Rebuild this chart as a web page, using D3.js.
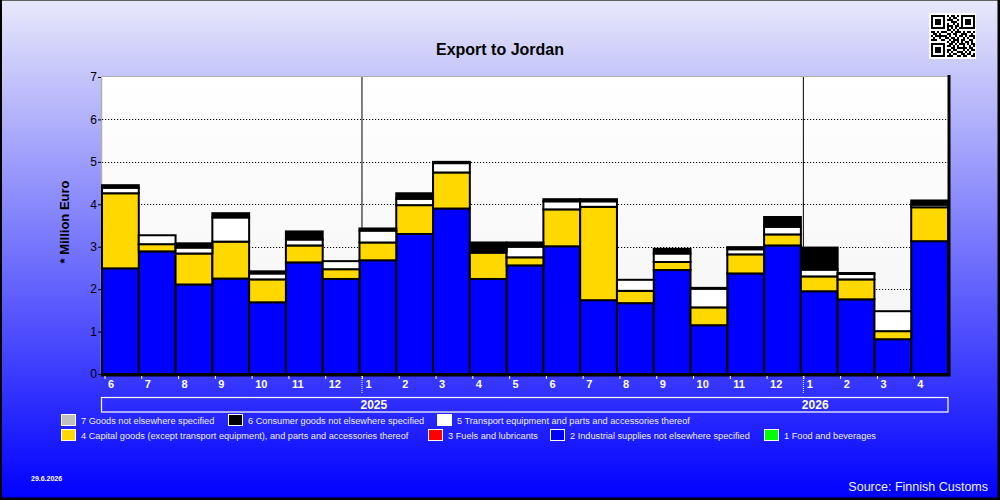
<!DOCTYPE html>
<head>
	<meta charset="utf-8" />
	<style>
		body { margin: 0; background: #fff; overflow: hidden; }
		svg { display: block; font-family: 'Liberation Sans', Arial, sans-serif; }
	</style>
</head>
<body>
	<div id="chart-area"></div>
	<script src="https://cdnjs.cloudflare.com/ajax/libs/d3/7.8.5/d3.min.js"></script>
	<script>
		// months Jun 2024 .. Apr 2026
		const months = [6, 7, 8, 9, 10, 11, 12, 1, 2, 3, 4, 5, 6, 7, 8, 9, 10, 11, 12, 1, 2, 3, 4];
		const years = [
			{ label: '2025', start: 7 },
			{ label: '2026', start: 19 },
		];
		const yTicks = [0, 1, 2, 3, 4, 5, 6, 7];

		// million euro per category (bottom -> top)
		const industrial = [2.49, 2.89, 2.11, 2.25, 1.69, 2.63, 2.24, 2.68, 3.30, 3.90, 2.24, 2.56, 3.01, 1.74, 1.67, 2.45, 1.15, 2.37, 3.03, 1.95, 1.76, 0.82, 3.13];
		const capital = [1.77, 0.17, 0.73, 0.87, 0.54, 0.40, 0.23, 0.42, 0.68, 0.85, 0.62, 0.19, 0.87, 2.20, 0.29, 0.19, 0.42, 0.45, 0.26, 0.35, 0.47, 0.19, 0.80];
		const transport = [0.13, 0.21, 0.14, 0.57, 0.14, 0.14, 0.19, 0.28, 0.15, 0.22, 0.02, 0.25, 0.19, 0.13, 0.26, 0.20, 0.44, 0.12, 0.18, 0.16, 0.13, 0.47, 0.06];
		const consumer = [0.06, 0, 0.10, 0.10, 0.05, 0.19, 0, 0.05, 0.13, 0.03, 0.22, 0.10, 0.05, 0.05, 0, 0.11, 0.02, 0.05, 0.23, 0.52, 0.02, 0, 0.10];

		const stackSeries = [
			{ key: 'industrial', values: industrial, color: '#0000ff' },
			{ key: 'capital', values: capital, color: '#ffd800' },
			{ key: 'transport', values: transport, color: '#ffffff' },
			{ key: 'consumer', values: consumer, color: '#000000' },
		];

		const legendRows = [
			[
				{ label: '7 Goods not elsewhere specified', color: '#c0c0c0', x: 61 },
				{ label: '6 Consumer goods not elsewhere specified', color: '#000000', x: 228 },
				{ label: '5  Transport equipment and parts and accessories thereof', color: '#ffffff', x: 437 },
			],
			[
				{ label: '4 Capital goods (except transport equipment), and parts and accessories thereof', color: '#ffd800', x: 61 },
				{ label: '3 Fuels and lubricants', color: '#ff0000', x: 428 },
				{ label: '2 Industrial supplies not elsewhere specified', color: '#0000ff', x: 550 },
				{ label: '1 Food and beverages', color: '#00ff00', x: 764 },
			],
		];

		// fake qr modules (decoration)
		const qrRows = [
			'1111111010110101111111',
			'1000001001011001000001',
			'1011101011100101011101',
			'1011101000111001011101',
			'1011101010010101011101',
			'1000001011101101000001',
			'1111111010101011111111',
			'0000000011010100000000',
			'1101011100101110101101',
			'0110100011011001110010',
			'1011111101001011010111',
			'0100100110110100101001',
			'1110011001011101100110',
			'0000000010110101011010',
			'1111111001101011101011',
			'1000001011010100100101',
			'1011101000110111110110',
			'1011101011011000101011',
			'1011101010100111010100',
			'1000001001011001101101',
			'1111111011100110110011',
		];

		const W = 1000, H = 500;
		const margin = { left: 102, right: 948, top: 77, bottom: 374 };

		const svg = d3.select('#chart-area').append('svg')
			.attr('width', W).attr('height', H);

		const defs = svg.append('defs');
		const bg = defs.append('linearGradient').attr('id', 'bg')
			.attr('x1', 0).attr('y1', 0).attr('x2', 0).attr('y2', 1);
		bg.append('stop').attr('offset', '0%').attr('stop-color', '#e8e8fa');
		bg.append('stop').attr('offset', '100%').attr('stop-color', '#0000ff');
		const plotBg = defs.append('linearGradient').attr('id', 'plotbg')
			.attr('x1', 0).attr('y1', 0).attr('x2', 0).attr('y2', 1);
		plotBg.append('stop').attr('offset', '0%').attr('stop-color', '#ffffff');
		plotBg.append('stop').attr('offset', '100%').attr('stop-color', '#f4f4f4');

		svg.append('rect').attr('width', W).attr('height', H).attr('fill', 'url(#bg)');
		svg.append('rect').attr('x', 0.5).attr('y', 0.5).attr('width', W - 2).attr('height', H - 2)
			.attr('fill', 'none').attr('stroke', '#606060');
		svg.append('path').attr('d', `M${W - 1},0V${H - 1}H0`).attr('stroke', '#000').attr('stroke-width', 3).attr('fill', 'none');
		svg.append('path').attr('d', `M1,0V${H}`).attr('stroke', '#000').attr('stroke-width', 2).attr('fill', 'none');

		const x = d3.scaleBand()
			.domain(d3.range(months.length))
			.range([margin.left, margin.right])
			.padding(0);
		const y = d3.scaleLinear().domain([0, 7]).range([margin.bottom, margin.top]);

		// plot area
		svg.append('rect')
			.attr('x', margin.left).attr('y', margin.top)
			.attr('width', margin.right - margin.left).attr('height', margin.bottom - margin.top)
			.attr('fill', 'url(#plotbg)');
		svg.append('line')
			.attr('x1', margin.left - 1).attr('x2', margin.right).attr('y1', margin.top - 0.5).attr('y2', margin.top - 0.5)
			.attr('stroke', '#b0b0b0');
		svg.append('line')
			.attr('x1', margin.left - 0.5).attr('x2', margin.left - 0.5).attr('y1', margin.top).attr('y2', margin.bottom)
			.attr('stroke', '#b0b0b0').attr('stroke-width', 1.5);

		// gridlines
		svg.append('g').selectAll('line')
			.data(yTicks.filter(d => d > 0 && d < 7))
			.join('line')
			.attr('x1', margin.left).attr('x2', margin.right)
			.attr('y1', d => Math.round(y(d)) + 0.5).attr('y2', d => Math.round(y(d)) + 0.5)
			.attr('stroke', '#000').attr('stroke-dasharray', '1.2,1.8');

		// year separators
		svg.append('g').selectAll('line')
			.data(years)
			.join('line')
			.attr('x1', d => x(d.start) + 2.5).attr('x2', d => x(d.start) + 2.5)
			.attr('y1', margin.top).attr('y2', margin.bottom)
			.attr('stroke', '#000');

		// stacked bars
		const barsG = svg.append('g');
		stackSeries.forEach((s, si) => {
			const segs = months.map((m, i) => {
				const base = d3.sum(stackSeries.slice(0, si), p => p.values[i]);
				return { i, y0: base, y1: base + s.values[i] };
			}).filter(d => d.y1 - d.y0 > 0);
			barsG.append('g').selectAll('rect')
				.data(segs)
				.join('rect')
				.attr('x', d => x(d.i))
				.attr('width', x.bandwidth())
				.attr('y', d => y(d.y1))
				.attr('height', d => y(d.y0) - y(d.y1))
				.attr('fill', s.color)
				.attr('stroke', '#000')
				.attr('stroke-width', 2);
		});

		// frame shadow right/bottom
		svg.append('path')
			.attr('d', `M${margin.left - 1},${margin.bottom + 1}H${margin.right + 1}V${margin.top - 2}`)
			.attr('fill', 'none').attr('stroke', '#000').attr('stroke-width', 3);

		// y axis
		const yAxis = d3.axisLeft(y).tickValues(yTicks).tickSize(3).tickFormat(d3.format('d'));
		const yg = svg.append('g').attr('transform', `translate(${margin.left - 1},0)`).call(yAxis);
		yg.select('.domain').remove();
		yg.selectAll('.tick line').attr('stroke', '#000');
		yg.selectAll('.tick text')
			.attr('fill', '#000').attr('font-size', 12)
			.attr('font-family', "'Liberation Sans', Arial, sans-serif")
			.attr('x', -4);

		// x axis: ticks at bar start, labels left aligned
		const xg = svg.append('g');
		xg.selectAll('line')
			.data(months.map((m, i) => i))
			.join('line')
			.attr('x1', i => x(i) + 3).attr('x2', i => x(i) + 3)
			.attr('y1', margin.bottom + 2).attr('y2', margin.bottom + 5)
			.attr('stroke', '#fff');
		xg.selectAll('text')
			.data(months.map((m, i) => ({ m, i })))
			.join('text')
			.attr('x', d => x(d.i) + 6)
			.attr('y', margin.bottom + 14)
			.attr('fill', '#fff').attr('font-size', 11).attr('font-weight', 'bold')
			.text(d => d.m);
		xg.selectAll('line.ysep')
			.data(years)
			.join('line')
			.attr('class', 'ysep')
			.attr('x1', d => x(d.start) + 2.5).attr('x2', d => x(d.start) + 2.5)
			.attr('y1', margin.bottom + 2).attr('y2', margin.bottom + 20)
			.attr('stroke', '#fff').attr('stroke-dasharray', '1,1');

		// year band
		svg.append('rect')
			.attr('x', margin.left - 0.5).attr('y', 397.5)
			.attr('width', margin.right - margin.left + 0.5).attr('height', 14.5)
			.attr('fill', 'none').attr('stroke', '#fff').attr('stroke-width', 1.2);
		svg.append('g').selectAll('text')
			.data(years)
			.join('text')
			.attr('x', d => x(d.start) + 1)
			.attr('y', 409)
			.attr('fill', '#fff').attr('font-size', 12).attr('font-weight', 'bold')
			.text(d => d.label);

		// titles
		svg.append('text')
			.attr('x', 500).attr('y', 55)
			.attr('text-anchor', 'middle')
			.attr('font-size', 16).attr('font-weight', 'bold').attr('fill', '#000')
			.text('Export to Jordan');
		svg.append('text')
			.attr('transform', 'translate(69,222) rotate(-90)')
			.attr('text-anchor', 'middle')
			.attr('font-size', 13).attr('font-weight', 'bold').attr('fill', '#000')
			.text('* Million Euro');

		// legend
		legendRows.forEach((row, ri) => {
			const ly = 414 + ri * 15;
			const g = svg.append('g');
			g.selectAll('rect')
				.data(row)
				.join('rect')
				.attr('x', d => d.x + 0.5).attr('y', ly + 0.5)
				.attr('width', 14).attr('height', 11)
				.attr('fill', d => d.color)
				.attr('stroke', '#fff');
			g.selectAll('text')
				.data(row)
				.join('text')
				.attr('x', d => d.x + 20).attr('y', ly + 10)
				.attr('fill', '#eeeeff').attr('font-size', 9.2)
				.text(d => d.label);
		});

		// footer
		svg.append('text')
			.attr('x', 31).attr('y', 481)
			.attr('fill', '#fff').attr('font-size', 7).attr('font-weight', 'bold')
			.text('29.6.2026');
		svg.append('text')
			.attr('x', 988).attr('y', 491)
			.attr('text-anchor', 'end')
			.attr('fill', '#f0f0ff').attr('font-size', 12.5)
			.text('Source: Finnish Customs');

		// qr code
		const qrG = svg.append('g').attr('transform', 'translate(929,13)');
		qrG.append('rect').attr('width', 47).attr('height', 46).attr('fill', '#fff');
		const cell = 2;
		qrRows.forEach((row, r) => {
			row.split('').forEach((c, k) => {
				if (c === '1') {
					qrG.append('rect')
						.attr('x', 2 + k * cell).attr('y', 2 + r * cell)
						.attr('width', cell).attr('height', cell)
						.attr('fill', '#000');
				}
			});
		});
	</script>
</body>
